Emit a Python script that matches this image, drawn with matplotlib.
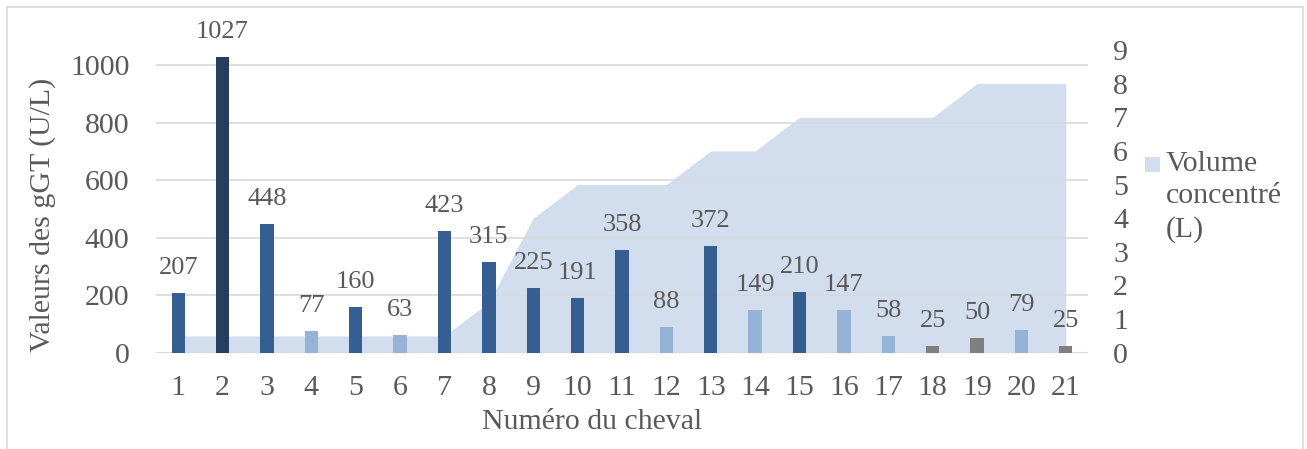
import numpy as np
import matplotlib
matplotlib.use("Agg")
import matplotlib.pyplot as plt
from matplotlib.patches import Rectangle

# gGT values per horse, volume of concentrate, and a group code for the bar shade
chevaux = list(range(1, 22))
ggt = [207, 1027, 448, 77, 160, 63, 423, 315, 225, 191, 358, 88, 372, 149, 210, 147, 58, 25, 50, 79, 25]
volume = [0.5, 0.5, 0.5, 0.5, 0.5, 0.5, 0.5, 1.5, 4, 5, 5, 5, 6, 6, 7, 7, 7, 7, 8, 8, 8]
groupe = ["m", "f", "m", "c", "m", "c", "m", "m", "m", "m", "m", "c", "m", "c", "m", "c", "c", "g", "g", "c", "g"]

palette = {"m": "#355F92", "f": "#253F61", "c": "#95B3D7", "g": "#7F7F7F"}
aire = "#D2DEEE"
txt = "#595959"
grid = "#D9D9D9"

plt.rcParams.update({
    "font.family": ["Liberation Serif", "DejaVu Serif"],
    "font.size": 21.5,
    "text.color": txt,
})

fig = plt.figure(figsize=(13.07, 4.49), dpi=100)
ax = fig.add_axes([156 / 1307, 1 - 352.7 / 449, (1088 - 156) / 1307, (352.7 - 50) / 449])
ax_vol = ax.twinx()

# area of the secondary axis sits behind the bars and gridlines
ax.set_zorder(ax_vol.get_zorder() + 1)
ax.patch.set_visible(False)

ax_vol.fill_between(chevaux, volume, 0, color=aire, lw=0)
ax_vol.set_ylim(0, 9)
ax_vol.set_yticks(range(0, 10))

ax.bar(chevaux, ggt, width=0.3, color=[palette[g] for g in groupe], zorder=3)
for x, v in zip(chevaux, ggt):
    ax.annotate(str(v), (x, v), xytext=(0, 18), textcoords="offset points",
                ha="center", va="center", fontsize=19, color=txt, zorder=4)

ax.set_xlim(0.5, 21.5)
ax.set_ylim(0, 1052)
ax.set_yticks(range(0, 1001, 200))
ax.set_xticks(chevaux)
ax.yaxis.grid(True, color=grid, lw=1.2, zorder=0)
ax.set_axisbelow(True)

for a in (ax, ax_vol):
    for s in ("top", "left", "right", "bottom"):
        a.spines[s].set_visible(False)
ax.axhline(0, color=grid, lw=1.5, zorder=2)

ax.tick_params(axis="y", length=0, pad=19, labelsize=21.5, labelcolor=txt)
ax.tick_params(axis="x", length=0, pad=16, labelsize=21.5, labelcolor=txt)
ax_vol.tick_params(axis="y", length=0, pad=18, labelsize=21.5, labelcolor=txt)

fig.text(43 / 1307, 1 - 215 / 449, "Valeurs des gGT (U/L)", rotation=90,
         ha="center", va="center", fontsize=21.5, color=txt)
fig.text(592 / 1307, 1 - 422 / 449, "Numéro du cheval", ha="center", va="center",
         fontsize=21.5, color=txt)

# legend entry for the area series: swatch next to the first line of text
fig.patches.append(Rectangle((1145 / 1307, 1 - 172 / 449), 15 / 1307, 15 / 449,
                             transform=fig.transFigure, color=aire, lw=0))
fig.text(1166 / 1307, 1 - 151 / 449, "Volume\nconcentré\n(L)", ha="left", va="top",
         fontsize=21.5, color=txt, linespacing=1.32)

# thin frame around the chart
fig.patches.append(Rectangle((7 / 1307, -0.02), (1303 - 7) / 1307, (449 - 7) / 449 + 0.02,
                             transform=fig.transFigure, fill=False, edgecolor=grid, lw=1.2))

fig.savefig("out.png", dpi=100)
